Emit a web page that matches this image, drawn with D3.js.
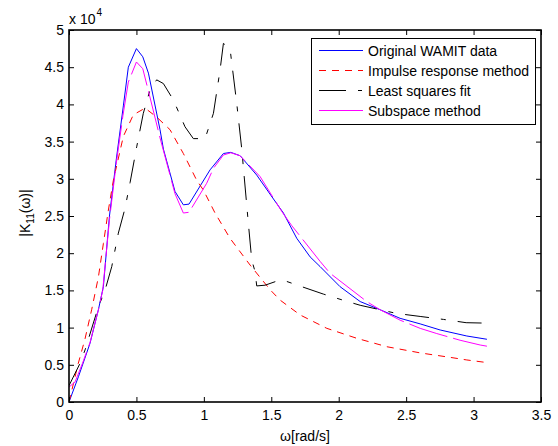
<!DOCTYPE html>
<html>
<head>
<meta charset="utf-8">
<script src="https://cdn.jsdelivr.net/npm/d3@7"></script>
<style>
  html, body { margin: 0; padding: 0; background: #fff; }
  svg text { font-family: "Liberation Sans", Arial, sans-serif; fill: #000; }
</style>
</head>
<body>
<svg id="chart" width="558" height="446"></svg>
<script>
// ---------------- data (values in units of 10^4) ----------------
const seriesNames = ["Original WAMIT data", "Impulse response method", "Least squares fit", "Subspace method"];

const wamitX = [0, 0.07, 0.156, 0.218, 0.255, 0.30, 0.35, 0.403, 0.44, 0.50, 0.547, 0.589, 0.675, 0.70, 0.786, 0.848, 0.89, 1.046, 1.145, 1.20, 1.269, 1.392, 1.50, 1.59, 1.689, 1.788, 1.862, 2.01, 2.159, 2.307, 2.455, 2.604, 2.752, 2.95, 3.099];
const wamitY = [0, 0.34, 0.79, 1.24, 1.55, 2.5, 3.25, 3.98, 4.5, 4.75, 4.64, 4.42, 3.66, 3.40, 2.83, 2.65, 2.66, 3.12, 3.34, 3.355, 3.31, 3.05, 2.77, 2.54, 2.20, 1.95, 1.82, 1.55, 1.35, 1.24, 1.125, 1.05, 0.968, 0.887, 0.843];

const impulseX = [0, 0.069, 0.119, 0.168, 0.218, 0.255, 0.292, 0.329, 0.403, 0.477, 0.564, 0.65, 0.749, 0.848, 0.947, 0.996, 1.083, 1.194, 1.343, 1.491, 1.565, 1.714, 1.912, 2.134, 2.357, 2.604, 2.826, 2.95, 3.099];
const impulseY = [0, 0.52, 0.85, 1.24, 1.68, 2.13, 2.58, 2.98, 3.57, 3.86, 3.95, 3.83, 3.66, 3.34, 2.98, 2.85, 2.54, 2.20, 1.84, 1.51, 1.37, 1.17, 0.99, 0.856, 0.743, 0.66, 0.60, 0.565, 0.53];

const lsqX = [0, 0.082, 0.119, 0.218, 0.267, 0.317, 0.366, 0.415, 0.453, 0.502, 0.551, 0.60, 0.65, 0.70, 0.774, 0.86, 0.922, 1.009, 1.071, 1.12, 1.145, 1.194, 1.244, 1.281, 1.33, 1.355, 1.38, 1.392, 1.454, 1.565, 1.615, 1.726, 1.887, 2.047, 2.159, 2.307, 2.43, 2.604, 2.777, 2.945, 3.099];
const lsqY = [0.22, 0.52, 0.70, 1.28, 1.5, 1.82, 2.27, 2.6, 2.95, 3.43, 3.88, 4.19, 4.33, 4.28, 4.06, 3.70, 3.54, 3.54, 3.88, 4.46, 4.82, 4.75, 4.01, 3.40, 2.40, 1.91, 1.75, 1.56, 1.57, 1.64, 1.62, 1.55, 1.45, 1.36, 1.30, 1.24, 1.19, 1.15, 1.11, 1.066, 1.06];

const subspaceX = [0, 0.045, 0.1, 0.156, 0.218, 0.25, 0.30, 0.35, 0.40, 0.44, 0.50, 0.547, 0.60, 0.675, 0.786, 0.848, 0.89, 1.021, 1.071, 1.145, 1.20, 1.269, 1.417, 1.578, 1.652, 1.862, 1.936, 2.208, 2.307, 2.455, 2.604, 2.727, 2.90, 3.049, 3.099];
const subspaceY = [0.2, 0.27, 0.52, 0.80, 1.24, 1.5, 2.45, 3.2, 3.85, 4.3, 4.57, 4.48, 4.1, 3.55, 2.80, 2.54, 2.55, 2.94, 3.14, 3.32, 3.35, 3.31, 3.03, 2.56, 2.37, 1.89, 1.73, 1.35, 1.24, 1.1, 0.99, 0.92, 0.83, 0.766, 0.75];

const xTicks = [0, 0.5, 1, 1.5, 2, 2.5, 3, 3.5];
const yTicks = [0, 0.5, 1, 1.5, 2, 2.5, 3, 3.5, 4, 4.5, 5];
const xTickLabels = ["0", "0.5", "1", "1.5", "2", "2.5", "3", "3.5"];
const yTickLabels = ["0", "0.5", "1", "1.5", "2", "2.5", "3", "3.5", "4", "4.5", "5"];

// ---------------- layout ----------------
const L = 69, R = 541, T = 30, B = 402;
const svg = d3.select("#chart");
const x = d3.scaleLinear().domain([0, 3.5]).range([L, R]);
const y = d3.scaleLinear().domain([0, 5]).range([B, T]);

const styles = [
  { color: "#0000ff", dash: null },
  { color: "#ff0000", dash: "7,6" },
  { color: "#000000", dash: "24,12,5,12" },
  { color: "#ff00ff", dash: "40,6" }
];
const series = [
  wamitX.map((v, i) => [v, wamitY[i]]),
  impulseX.map((v, i) => [v, impulseY[i]]),
  lsqX.map((v, i) => [v, lsqY[i]]),
  subspaceX.map((v, i) => [v, subspaceY[i]])
];

// clip
svg.append("defs").append("clipPath").attr("id", "clip")
  .append("rect").attr("x", L).attr("y", T).attr("width", R - L).attr("height", B - T);

const line = d3.line().x(d => x(d[0])).y(d => y(d[1]));
const g = svg.append("g").attr("clip-path", "url(#clip)");
series.forEach((s, i) => {
  g.append("path").datum(s)
    .attr("d", line)
    .attr("fill", "none")
    .attr("stroke", styles[i].color)
    .attr("stroke-width", 1)
    .attr("stroke-dasharray", styles[i].dash);
});

// axes with inward ticks (bottom/left labeled, top/right unlabeled)
const tickLen = 5;
const axB = svg.append("g").attr("transform", `translate(0,${B})`)
  .call(d3.axisBottom(x).tickValues(xTicks).tickSizeInner(-tickLen).tickSizeOuter(0).tickPadding(8)
    .tickFormat((d, i) => xTickLabels[i]));
const axT = svg.append("g").attr("transform", `translate(0,${T})`)
  .call(d3.axisTop(x).tickValues(xTicks).tickSizeInner(-tickLen).tickSizeOuter(0).tickFormat(""));
const axL = svg.append("g").attr("transform", `translate(${L},0)`)
  .call(d3.axisLeft(y).tickValues(yTicks).tickSizeInner(-tickLen).tickSizeOuter(0).tickPadding(5)
    .tickFormat((d, i) => yTickLabels[i]));
const axR = svg.append("g").attr("transform", `translate(${R},0)`)
  .call(d3.axisRight(y).tickValues(yTicks).tickSizeInner(-tickLen).tickSizeOuter(0).tickFormat(""));
[axB, axT, axL, axR].forEach(a => {
  a.select(".domain").remove();
  a.selectAll("line").attr("stroke", "#000").attr("stroke-width", 1);
  a.selectAll("text").attr("font-size", 14).attr("font-family", "Liberation Sans, Arial, sans-serif").attr("fill", "#000");
});

// box
svg.append("rect").attr("x", L).attr("y", T).attr("width", R - L).attr("height", B - T)
  .attr("fill", "none").attr("stroke", "#000").attr("stroke-width", 1.6);

// exponent label
const ex = svg.append("text").attr("x", 69).attr("y", 24).attr("font-size", 14);
ex.append("tspan").text("x 10");
ex.append("tspan").attr("dy", -8).attr("dx", 1).attr("font-size", 10).text("4");

// axis labels
svg.append("text").attr("x", (L + R) / 2).attr("y", 441).attr("text-anchor", "middle")
  .attr("font-size", 14).text("ω[rad/s]");
const yl = svg.append("text").attr("transform", "translate(30,213) rotate(-90)")
  .attr("text-anchor", "middle").attr("font-size", 14);
yl.append("tspan").text("|K");
yl.append("tspan").attr("font-size", 10).attr("dy", 4).text("11");
yl.append("tspan").attr("dy", -4).text("(ω)|");

// legend
const lg = svg.append("g");
lg.append("rect").attr("x", 311.5).attr("y", 38.5).attr("width", 224).attr("height", 86)
  .attr("fill", "#fff").attr("stroke", "#000").attr("stroke-width", 1);
const legendDash = [null, "7,6", "27,12,4,12", null];
seriesNames.forEach((name, i) => {
  const yy = 50.5 + i * 20;
  lg.append("line").attr("x1", 319).attr("x2", 363).attr("y1", yy).attr("y2", yy)
    .attr("stroke", styles[i].color).attr("stroke-width", 1)
    .attr("stroke-dasharray", legendDash[i]);
  lg.append("text").attr("x", 368).attr("y", yy + 5).attr("font-size", 14).text(name);
});
</script>
</body>
</html>
